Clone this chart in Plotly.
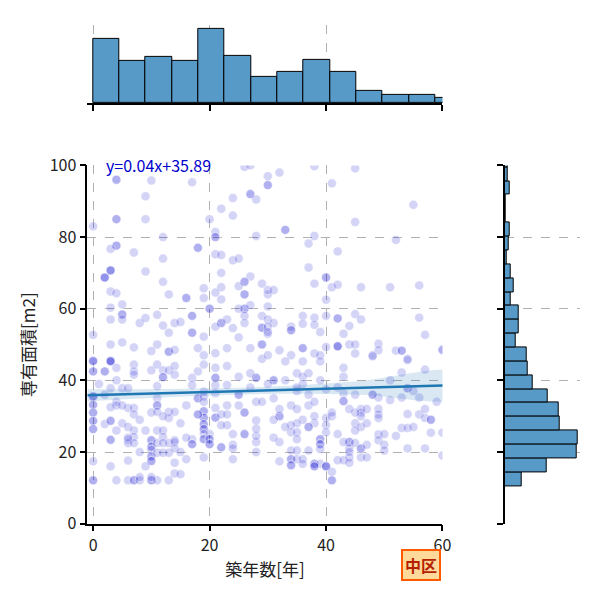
import plotly.graph_objects as go

# ---------------- data ----------------
# scatter: building age [years] and floor area [m2]
age = [
    4, 4, 10, 17, 9, 4, 4, 9, 0, 12, 4, 4, 3, 7, 12, 18, 18, 3, 3, 3, 2, 2, 2, 9, 12, 3, 4, 13, 16, 16, 19, 19,
    3, 5, 5, 5, 20, 20, 3, 5, 8, 9, 11, 12, 14, 15, 17, 17, 17, 17, 13, 19, 0, 3, 5, 7, 11, 10,
    13, 13, 14, 18, 19, 0, 0, 3, 3,
    21, 21, 21, 22, 24, 24, 27, 27, 28, 28, 20, 30, 21, 22, 24, 25, 22, 27, 26, 26, 22, 21, 22, 25, 26, 26,
    29, 30, 26, 26, 25, 27, 26, 26, 22, 22, 23, 21, 24, 29, 29, 29, 30, 25, 29, 29, 21, 23, 27, 29,
    26, 27, 38, 45, 32, 30, 30, 41, 55, 45, 33, 33, 38, 37, 52, 42, 37, 40, 40, 38, 41, 42, 46, 51, 56,
    30, 31, 40, 30, 30, 31, 30, 36, 38, 38, 36, 40, 42, 42, 45, 46, 56, 44, 34, 34, 34, 39, 30, 43, 57,
    32, 36, 36, 40, 42, 42, 42, 44, 45, 49, 49, 52, 53, 53, 60, 38, 39, 34, 48, 45, 30, 54, 60,
    0, 0, 0, 3, 3, 2, 2, 4, 7, 7, 7, 10, 11, 12, 12, 12, 11, 13, 14, 4, 0, 0, 0, 3, 5, 6, 4, 4, 3,
    0, 0, 0, 0, 0, 0, 0, 0, 6, 7, 7, 10, 11, 11, 11, 11, 13, 14, 13, 2, 3, 3, 5, 6, 4, 7, 7, 10, 10,
    10, 10, 11, 12, 12, 11, 12, 13, 3, 3, 6, 6, 7, 14, 10, 10, 10, 10, 10, 11, 12, 13, 0, 3, 6,
    0, 0, 4, 6, 7, 7, 8, 10, 10, 11, 13, 8, 10,
    14, 18, 21, 23, 19, 17, 17, 21, 21, 21, 21, 28, 28, 25, 27, 23, 18, 18, 25, 25, 19, 19, 19, 21,
    19, 19, 19, 19, 19, 19, 19, 19, 19, 19, 19, 20, 20, 20, 20, 20, 18, 18, 21, 21, 22, 23, 23, 22,
    17, 17, 17, 14, 14, 22, 22, 24, 24, 24, 26, 26, 28, 28, 28, 28, 28, 28, 14, 14, 16, 19, 15,
    33, 36, 39, 43, 43, 31, 31, 35, 37, 36, 39, 40, 43, 43, 43, 31, 37, 34, 35, 32, 32, 31, 36, 35,
    38, 37, 37, 40, 40, 40, 34, 34, 35, 35, 39, 39, 39, 39, 39, 32, 44, 44, 44, 42, 43, 34, 35, 37,
    34, 34, 35, 36, 36, 38, 38, 39, 34, 34, 38, 38, 40, 40, 40, 42, 43, 32, 41, 41, 44, 44, 41,
    48, 54, 53, 57, 54, 54, 55, 45, 49, 53, 56, 59, 46, 46, 46, 47, 45, 49, 49, 49, 54, 56, 57, 57,
    58, 58, 45, 46, 47, 53, 54, 55, 58, 60, 52, 49, 49, 45, 46, 46, 50, 50, 54, 57, 46, 47, 60, 44,
    48, 51,
    1, 2, 5, 6, 8, 9, 9, 15, 16, 16, 24, 25, 26, 27, 30, 31, 33, 33, 35, 36, 37, 38, 41, 42,
    44, 45, 47, 48, 50, 51, 8, 12, 15, 23, 26, 29, 32, 35, 38, 41,
]
area = [
    96, 96, 95.8, 95.3, 91.4, 85, 85, 85, 83, 80, 77.6, 77.6, 76.7, 75.7, 74, 77, 77, 70.7, 70.7, 70.7,
    68.7, 68.7, 68.7, 70.4, 67.5, 64.8, 64.3, 64, 63, 63, 65.7, 63,
    60.3, 61.2, 58.4, 58.4, 60, 60, 57, 57, 56, 57.4, 58.3, 55.3, 56, 56.3, 58, 58, 53.3, 53.3, 53.3, 52.2,
    52.7, 50, 50.6, 49.2, 50, 48.2,
    48, 48, 48.5, 49, 47, 45.5, 45.5, 45.5, 45.5,
    81.4, 80, 80, 87.9, 90.9, 86, 92, 92, 90.5, 80.3, 85, 97, 75.2, 75, 73.5, 74, 70, 69, 67.5, 67.5, 66,
    64.5, 62.6, 66.3, 64, 64,
    67, 64, 60, 60, 60, 61, 58, 56, 56, 56, 57, 55, 54.6, 54.7, 54.7, 58, 53, 52, 50, 50, 47.6, 49, 49, 46,
    99.6, 100, 99.8, 99.2, 98, 94.5, 94.5, 95, 89, 84.2, 82, 82, 80.3, 78.2, 79.2, 76, 71.5, 68.7, 68.7,
    67, 66, 66.7, 66, 66, 66.5,
    65.2, 65.2, 62.5, 60.6, 57, 56, 55, 58, 57.5, 55.5, 55.8, 58, 57.3, 57.3, 58.5, 57, 57.5, 55.2, 55,
    54, 54, 53.5, 53.5, 53, 52.7,
    48.4, 49, 49, 49.3, 49.5, 49.5, 49.5, 50, 50, 50.2, 48.4, 48.3, 48.3, 48.3, 48.4, 47.5, 47, 47, 47,
    47.5, 47, 46, 48.6,
    45.3, 42.5, 42.5, 45.3, 45.3, 42.5, 42.5, 43.5, 44.4, 42.5, 41.6, 42.8, 44.4, 42.8, 40.9, 40.9, 38.4,
    42.8, 41.6, 40, 35.5, 35.5, 35.5, 37.8, 37.8, 37.8, 34, 33, 32.5,
    33.2, 33.2, 31, 31, 28.7, 28.7, 26.4, 26.4, 32.3, 32.3, 30.5, 31, 35, 33, 33, 31.2, 31.2, 31.2, 29.5,
    27.8, 28.7, 28.7, 28, 27, 26, 26, 24.2, 23.3, 23.3,
    21.5, 21.5, 26, 26, 24.2, 22.5, 22.5, 22.5, 23.4, 23.4, 23.4, 22.5, 22.5, 23.3, 20.6, 18.8, 18.8,
    17.5, 17.5, 19.8, 19.8, 19.8, 17.4, 16, 17.6,
    12.1, 12.1, 12.1, 12.1, 12.1, 12.1, 12.1, 12.1, 12.1, 12.1, 12.1, 13, 13,
    44, 42.5, 43.5, 44, 44.4, 40.7, 38.7, 40.7, 40.7, 38.7, 36.4, 40.7, 40.7, 41, 42, 38.7, 35, 35, 36,
    36, 36.9, 35.5, 34, 32.3,
    31.4, 31.4, 29.6, 29.6, 27.8, 27.8, 26.4, 26.4, 25, 23.6, 23.6, 25, 23.6, 23.6, 22.2, 22.2, 30.5,
    30.5, 29.6, 29.6, 30.5, 30.5, 27.5, 27.5,
    23.6, 22.2, 22.2, 22.8, 21, 21.3, 21.3, 22, 21, 25, 25, 25, 22.8, 24.5, 26.5, 28.8, 34, 20, 17, 14,
    18, 18.5, 13.8,
    45.3, 45.3, 45.3, 43.5, 41, 40, 40, 42, 42, 41, 40, 37.5, 36.4, 34.2, 34.2, 35, 36, 33, 32, 30, 30,
    29, 29, 28,
    28, 27, 27, 29.5, 27.5, 25.5, 27.5, 25.5, 25.5, 23.6, 23.6, 23.6, 22.2, 22.2, 20.8, 22.8, 22.8, 22.8,
    21, 25, 22.8, 20.4, 20.4, 20.4,
    18, 18, 18, 18, 16.7, 16.7, 16.7, 16.7, 16.3, 16.3, 16, 16, 16, 16, 16, 17.7, 17.7, 17.4, 12.1, 12.1,
    18.5, 17, 14.5,
    46.7, 45.7, 42.2, 43, 37.8, 37.8, 37, 36, 35.2, 35.2, 35.2, 34, 32, 31, 30, 32, 31, 32, 30.5, 29.5,
    30.6, 30.5, 32, 29.5,
    29, 29, 28, 27, 28, 26.7, 26.7, 27, 25.4, 25.4, 24.5, 24.9, 23.3, 22.5, 21, 21, 22, 20.4, 21, 21,
    18.5, 18.5, 19, 20,
    36, 34.5,
    39, 36, 33, 24, 20, 26, 16, 20, 24, 33, 18, 33, 31, 38, 39, 24, 40, 27, 37, 39, 33, 30, 30, 38,
    32, 26, 22, 36, 25, 40, 29, 30, 28, 33, 31, 34, 32, 38, 34, 31,
]

# marginal histogram of age (top): first bin edge, bin width, counts
age_bin_start = 0.0
age_bin_width = 4.52
age_counts = [97, 64, 70, 64, 112, 71, 40, 47, 65, 47, 19, 12, 13, 8]

# marginal histogram of area (right): first bin edge, bin width, counts (bottom -> top)
area_bin_start = 10.5
area_bin_width = 3.87
area_counts = [24, 60, 102, 104, 78, 77, 61, 40, 33, 31, 15, 20, 20, 8, 13, 9, 3, 6, 7, 2, 2, 7, 4, 4]

# regression line and confidence band
reg_slope = 0.044
reg_intercept = 35.89
band_x = [-1, 15, 30, 45, 63]
band_half = [1.65, 1.1, 1.0, 1.8, 3.4]

x_ticks = [0, 20, 40, 60]
y_ticks = [0, 20, 40, 60, 80, 100]

FONT = "Noto Sans CJK JP"
BAR_COLOR = "#5799c7"
GRID = "#b0b0b0"

# the rendered page maps the plotly paper onto ~589 x 582 screen px, starting 8 px down
PW, PH, PTOP = 589.0, 582.0, 8.0


def fx(px):
    return px / PW


def fy(py):
    return 1 - (py - PTOP) / PH


fig = go.Figure()

# scatter
fig.add_trace(go.Scatter(
    x=age, y=area, mode="markers",
    marker=dict(size=9, color="rgba(0,0,205,0.17)",
                line=dict(color="rgba(255,255,255,0.5)", width=0.8)),
    xaxis="x", yaxis="y", showlegend=False, hoverinfo="skip"))

# confidence band
line_y = [reg_slope * v + reg_intercept for v in band_x]
upper = [ly + h for ly, h in zip(line_y, band_half)]
lower = [ly - h for ly, h in zip(line_y, band_half)]
fig.add_trace(go.Scatter(
    x=band_x + band_x[::-1], y=upper + lower[::-1], fill="toself",
    fillcolor="rgba(31,119,180,0.17)", line=dict(width=0), mode="lines",
    line_shape="spline", xaxis="x", yaxis="y", showlegend=False, hoverinfo="skip"))
fig.add_trace(go.Scatter(
    x=[band_x[0], band_x[-1]],
    y=[reg_slope * band_x[0] + reg_intercept, reg_slope * band_x[-1] + reg_intercept],
    mode="lines", line=dict(color="#1f77b4", width=2.5),
    xaxis="x", yaxis="y", showlegend=False, hoverinfo="skip"))

# top marginal histogram
age_centers = [age_bin_start + age_bin_width * (i + 0.5) for i in range(len(age_counts))]
fig.add_trace(go.Bar(
    x=age_centers, y=age_counts, width=age_bin_width,
    marker=dict(color=BAR_COLOR, line=dict(color="black", width=1)),
    xaxis="x2", yaxis="y2", showlegend=False, hoverinfo="skip", cliponaxis=True))

# right marginal histogram
area_centers = [area_bin_start + area_bin_width * (i + 0.5) for i in range(len(area_counts))]
fig.add_trace(go.Bar(
    y=area_centers, x=area_counts, width=area_bin_width, orientation="h",
    marker=dict(color=BAR_COLOR, line=dict(color="black", width=1)),
    xaxis="x3", yaxis="y3", showlegend=False, hoverinfo="skip", cliponaxis=True))

main_x_dom = [fx(87), fx(441)]
main_y_dom = [fy(524), fy(162)]

common_grid = dict(showgrid=True, gridcolor=GRID, griddash="dash", gridwidth=1, zeroline=False)

fig.update_layout(
    width=600, height=600,
    margin=dict(l=0, r=0, t=0, b=0),
    paper_bgcolor="white", plot_bgcolor="white",
    font=dict(family=FONT, color="#222222"),
    bargap=0,
    xaxis=dict(domain=main_x_dom, range=[-1, 60], tickvals=x_ticks,
               showline=True, linecolor="black", linewidth=1.5,
               ticks="outside", ticklen=6, tickwidth=1.5, tickcolor="black",
               tickfont=dict(size=16, family=FONT),
               title=dict(text="築年数[年]", font=dict(size=17, family=FONT), standoff=9),
               anchor="y", **common_grid),
    yaxis=dict(domain=main_y_dom, range=[0, 100], tickvals=y_ticks,
               showline=True, linecolor="black", linewidth=1.5,
               ticks="outside", ticklen=6, tickwidth=1.5, tickcolor="black",
               tickfont=dict(size=16, family=FONT),
               title=dict(text="専有面積[m2]", font=dict(size=17, family=FONT), standoff=10),
               anchor="x", **common_grid),
    xaxis2=dict(domain=main_x_dom, range=[-1, 60], tickvals=x_ticks, showticklabels=False,
                showline=True, linecolor="black", linewidth=1.5,
                ticks="outside", ticklen=6, tickwidth=1.5, tickcolor="black",
                anchor="y2", **common_grid),
    yaxis2=dict(domain=[fy(99), fy(20)], range=[0, 118],
                showticklabels=False, showgrid=False, showline=False, zeroline=False,
                anchor="x2"),
    xaxis3=dict(domain=[fx(503), fx(578)], range=[0, 107],
                showticklabels=False, showgrid=False, showline=False, zeroline=False,
                anchor="y3"),
    yaxis3=dict(domain=main_y_dom, range=[0, 100], tickvals=y_ticks, showticklabels=False,
                showline=True, linecolor="black", linewidth=1.5,
                ticks="outside", ticklen=6, tickwidth=1.5, tickcolor="black",
                anchor="x3", **common_grid),
)

fig.add_annotation(
    x=1.9, y=100, xref="x", yref="y", xanchor="left", yanchor="middle",
    text=f"y={reg_slope:.2f}x+{reg_intercept:.2f}", showarrow=False,
    font=dict(size=16, color="#0000cd", family=FONT))

fig.add_annotation(
    x=fx(420), y=fy(566), xref="paper", yref="paper",
    xanchor="center", yanchor="middle",
    text="<b>中区</b>", showarrow=False,
    font=dict(size=16, color="#b42000", family=FONT),
    bgcolor="#ffd99a", bordercolor="#ff5a00", borderwidth=2, borderpad=2)

fig.write_html("out.html")
